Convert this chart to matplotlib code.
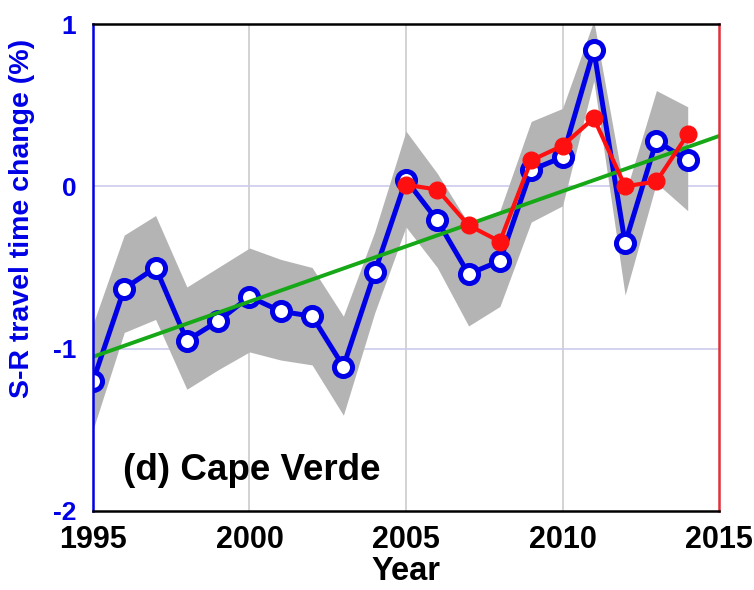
import numpy as np
import matplotlib
matplotlib.use("Agg")
import matplotlib.pyplot as plt

# S-R travel time change, Cape Verde
years = np.arange(1995, 2015)
sr_change = [-1.20, -0.63, -0.50, -0.95, -0.83, -0.68, -0.77, -0.80, -1.11, -0.53,
             0.04, -0.21, -0.54, -0.46, 0.10, 0.18, 0.84, -0.35, 0.28, 0.16]
band_upper = [-0.85, -0.30, -0.18, -0.62, -0.50, -0.38, -0.45, -0.50, -0.80, -0.28,
              0.34, 0.08, -0.23, -0.15, 0.40, 0.48, 1.02, -0.05, 0.59, 0.49]
band_lower = [-1.50, -0.90, -0.82, -1.25, -1.13, -1.02, -1.07, -1.10, -1.41, -0.78,
              -0.25, -0.50, -0.86, -0.74, -0.22, -0.12, 0.65, -0.67, 0.02, -0.15]

years_red = np.arange(2005, 2015)
red_change = [0.01, -0.02, -0.24, -0.34, 0.16, 0.25, 0.42, 0.00, 0.03, 0.32]

trend_years = [1995, 2015]
trend_vals = [-1.05, 0.31]

plt.rcParams['font.family'] = ['Liberation Sans', 'DejaVu Sans']
plt.rcParams['font.weight'] = 'bold'

fig = plt.figure(figsize=(7.54, 5.9), dpi=100)
ax = fig.add_axes([0.1233, 0.1339, 0.8303, 0.8254])

ax.fill_between(years, band_lower, band_upper, color='#b4b4b4', lw=0, zorder=1)
ax.plot(years, sr_change, color='#0000e6', lw=3.6, marker='o', ms=13, mew=3.6,
        mfc='white', mec='#0000e6', zorder=3)
ax.plot(trend_years, trend_vals, color='#17a817', lw=2.8, zorder=4)
ax.plot(years_red, red_change, color='#ff1010', lw=3, marker='o', ms=12,
        mfc='#ff1010', mec='#ff1010', zorder=5)

ax.set_xlim(1995, 2015)
ax.set_ylim(-2, 1)
ax.set_xticks([1995, 2000, 2005, 2010, 2015])
ax.set_yticks([-2, -1, 0, 1])
ax.set_yticklabels(['-2', '-1', '0', '1'])

for x in [2000, 2005, 2010]:
    ax.axvline(x, color='#cccccc', lw=1.2, zorder=0)
for y in [-1, 0]:
    ax.axhline(y, color='#ccccee', lw=1.2, zorder=0)

ax.tick_params(axis='x', length=0, pad=10, labelsize=22, labelcolor='black')
ax.tick_params(axis='y', length=0, pad=12, labelsize=19, labelcolor='#0000e6')
for lab in ax.get_xticklabels() + ax.get_yticklabels():
    lab.set_fontweight('bold')

ax.spines['left'].set_color('#0000e6')
ax.spines['right'].set_color('#e0303a')
ax.spines['top'].set_color('black')
ax.spines['bottom'].set_color('black')
for s in ax.spines.values():
    s.set_linewidth(1.8)
    s.set_zorder(6)

ax.set_xlabel('Year', fontsize=23.5, fontweight='bold', labelpad=1)
ax.set_ylabel('S-R travel time change (%)', fontsize=20.5, fontweight='bold',
              color='#0000e6')
ax.yaxis.set_label_coords(-0.093, 0.60)
ax.text(1995.95, -1.75, '(d) Cape Verde', fontsize=26.5, fontweight='bold',
        va='center', ha='left', zorder=7)

fig.savefig('out.png', dpi=100)
